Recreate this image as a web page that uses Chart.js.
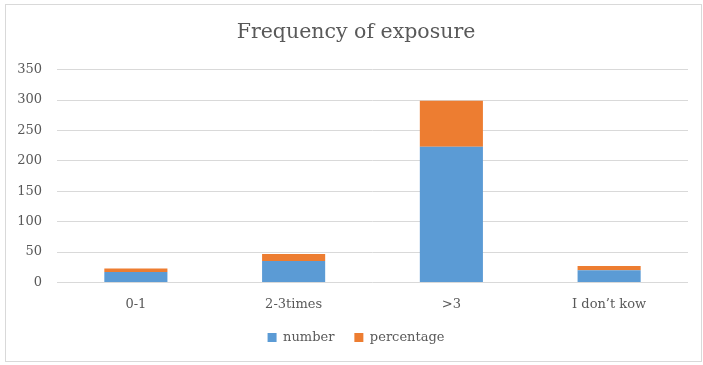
<!DOCTYPE html>
<html>
<head>
<meta charset="utf-8">
<script src="https://cdn.jsdelivr.net/npm/chart.js@4/dist/chart.umd.min.js"></script>
<style>
  html, body { margin: 0; padding: 0; background: #fff; }
  #wrap { position: relative; width: 703px; height: 365px; }
</style>
</head>
<body>
<div id="wrap"><canvas id="c" width="703" height="365"></canvas></div>
<script>
// Frequency of exposure: respondents per category, stacked with their share (%)
const categories = ['0-1', '2-3times', '>3', 'I don\u2019t kow'];
const numberValues = [17, 35, 223, 20];
const percentageValues = [5.8, 11.9, 75.6, 6.8];
const yTicks = [0, 50, 100, 150, 200, 250, 300, 350];

const TEXT = '#595959';
const GRID = '#d9d9d9';
const SERIF = '"DejaVu Serif", "Liberation Serif", serif';

// thin frame around the whole chart
const framePlugin = {
  id: 'frame',
  beforeDraw(chart) {
    const ctx = chart.ctx;
    ctx.save();
    ctx.fillStyle = '#fff';
    ctx.fillRect(0, 0, chart.width, chart.height);
    ctx.strokeStyle = GRID;
    ctx.lineWidth = 1;
    ctx.strokeRect(5.5, 4.5, 696, 357);
    ctx.restore();
  }
};

new Chart(document.getElementById('c'), {
  type: 'bar',
  data: {
    labels: categories,
    datasets: [
      { label: 'number', data: numberValues, backgroundColor: '#5B9BD5' },
      { label: 'percentage', data: percentageValues, backgroundColor: '#ED7D31' }
    ]
  },
  options: {
    responsive: false,
    animation: false,
    layout: { padding: { left: 9, right: 0, top: 0, bottom: 11 } },
    datasets: { bar: { barPercentage: 0.4, categoryPercentage: 1 } },
    scales: {
      x: {
        stacked: true,
        afterFit(scale) { scale.height -= 7; },
        grid: { display: false },
        border: { display: false },
        ticks: { color: TEXT, font: { family: SERIF, size: 13 }, padding: 6 }
      },
      y: {
        stacked: true,
        min: 0, max: 350,
        afterBuildTicks(scale) { scale.ticks = yTicks.map(v => ({ value: v })); },
        afterFit(scale) { scale.width = 48; },
        grid: { color: GRID, lineWidth: 1, drawTicks: false },
        border: { display: false },
        ticks: { color: TEXT, font: { family: SERIF, size: 13 }, padding: 15 }
      },
      // empty right margin strip, keeps the plot clear of the frame
      margin: {
        type: 'linear',
        position: 'right',
        afterFit(scale) { scale.width = 15; },
        grid: { display: false },
        border: { display: false },
        ticks: { display: false }
      }
    },
    plugins: {
      title: {
        display: true,
        text: 'Frequency of exposure',
        color: TEXT,
        font: { family: SERIF, size: 20.5, weight: 'normal' },
        padding: { top: 20, bottom: 25 }
      },
      legend: {
        position: 'bottom',
        labels: {
          color: TEXT,
          font: { family: SERIF, size: 13 },
          boxWidth: 9, boxHeight: 9, padding: 20
        }
      },
      tooltip: { enabled: false }
    }
  },
  plugins: [framePlugin]
});
</script>
</body>
</html>
